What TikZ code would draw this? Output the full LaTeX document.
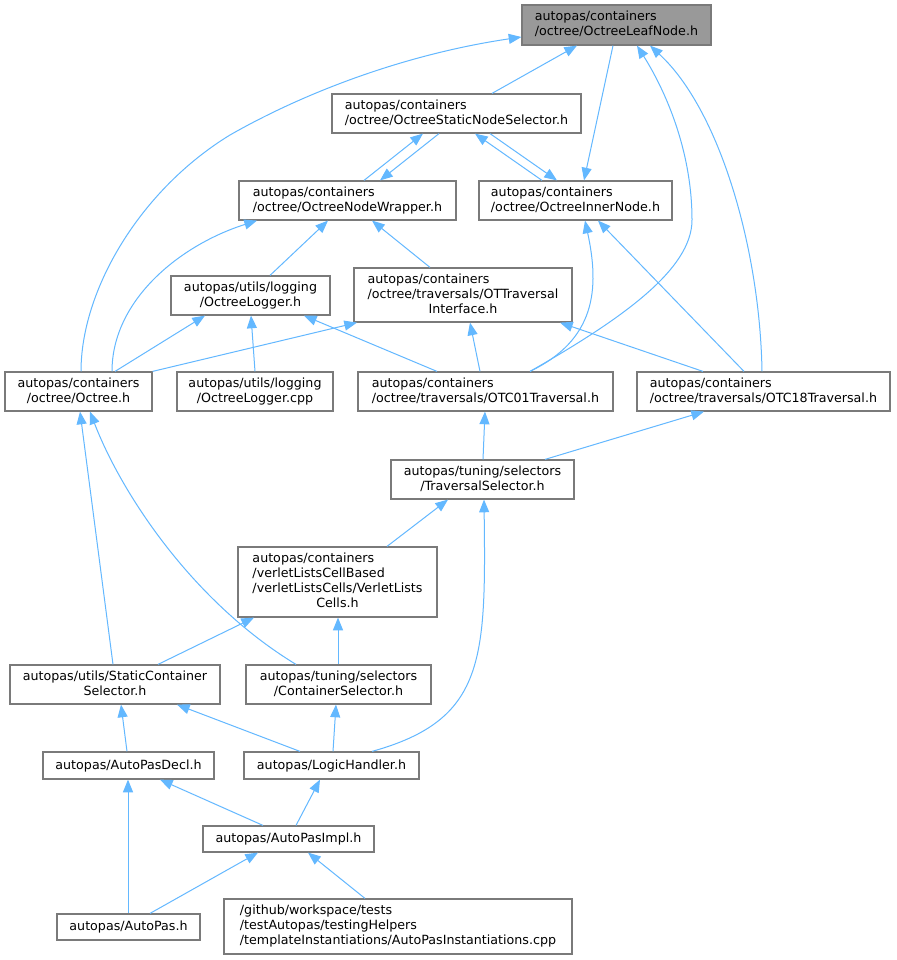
\documentclass[tikz,border=0pt]{standalone}
\usepackage{fontspec}
\setmainfont{DejaVu Sans}
\usetikzlibrary{arrows.meta}
\definecolor{edgec}{HTML}{63B8FF}
\definecolor{boxc}{HTML}{7A7A7A}
\definecolor{leafc}{HTML}{999999}
\newcommand\tl[2]{\begin{tabular}{@{}l@{}}#1\\\multicolumn{1}{@{}c@{}}{#2}\end{tabular}}
\begin{document}
\begin{tikzpicture}[x=0.75pt,y=-0.75pt,
  dbox/.style 2 args={draw=boxc, line width=0.9pt, fill=white, inner sep=0pt,
    minimum width=#1*0.75pt, minimum height=#2*0.75pt, align=center,
    font=\fontsize{9.5}{11.25}\selectfont},
  dep/.style={draw=edgec, line width=0.75pt, {Triangle[length=9.5pt,width=7.5pt]}-}]
\useasboundingbox (0,0) rectangle (896,960);
\fill[white] (0,0) rectangle (896,960);

\node[dbox={189}{40}, fill=leafc] (leaf) at (616.5,25) {\tl{autopas/containers}{/octree/OctreeLeafNode.h}};
\node[dbox={249}{39}] (sel) at (456.5,113.5) {\tl{autopas/containers}{/octree/OctreeStaticNodeSelector.h}};
\node[dbox={217}{39}] (wrap) at (347.5,200.5) {\tl{autopas/containers}{/octree/OctreeNodeWrapper.h}};
\node[dbox={193}{39}] (inner) at (575.5,200.5) {\tl{autopas/containers}{/octree/OctreeInnerNode.h}};
\node[dbox={159}{39}] (logh) at (250.5,295.5) {\tl{autopas/utils/logging}{/OctreeLogger.h}};
\node[dbox={218}{54}] (otti) at (463,295) {\tl{autopas/containers\\/octree/traversals/OTTraversal}{Interface.h}};
\node[dbox={147}{39}] (octree) at (78.5,391.5) {\tl{autopas/containers}{/octree/Octree.h}};
\node[dbox={156}{39}] (logcpp) at (255,391.5) {\tl{autopas/utils/logging}{/OctreeLogger.cpp}};
\node[dbox={255}{39}] (otc01) at (485.5,391.5) {\tl{autopas/containers}{/octree/traversals/OTC01Traversal.h}};
\node[dbox={253}{39}] (otc18) at (763.5,391.5) {\tl{autopas/containers}{/octree/traversals/OTC18Traversal.h}};
\node[dbox={183}{39}] (trav) at (482.5,479.5) {\tl{autopas/tuning/selectors}{/TraversalSelector.h}};
\node[dbox={199}{70}] (vlc) at (337.5,582) {\tl{autopas/containers\\/verletListsCellBased\\/verletListsCells/VerletLists}{Cells.h}};
\node[dbox={210}{39}] (scs) at (115,684.5) {\tl{autopas/utils/StaticContainer}{Selector.h}};
\node[dbox={185}{39}] (cs) at (338.5,684.5) {\tl{autopas/tuning/selectors}{/ContainerSelector.h}};
\node[dbox={171}{27}] (decl) at (128.5,765.5) {autopas/AutoPasDecl.h};
\node[dbox={175}{27}] (logic) at (331.5,765.5) {autopas/LogicHandler.h};
\node[dbox={171}{26}] (impl) at (288.5,839) {autopas/AutoPasImpl.h};
\node[dbox={143}{26}] (autopas) at (128.5,927) {autopas/AutoPas.h};
\node[dbox={348}{55}] (inst) at (398,926.5) {\tl{/github/workspace/tests\\/testAutopas/testingHelpers}{/templateInstantiations/AutoPasInstantiations.cpp}};

% edges (arrowhead at first end)
\draw[dep] (leaf.south -| 577,0) -- (sel.north -| 492,0);
\draw[dep] (leaf.west |- 0,37) .. controls (400,55) and (300,95) .. (230,135)
  .. controls (140,190) and (81,290) .. (octree.north -| 81,0);
\draw[dep] (inner.north -| 584,0) -- (leaf.south -| 613,0);
\draw[dep] (leaf.south -| 637,0) .. controls (665,90) and (692,150) .. (692,220)
  .. controls (692,270) and (620,320) .. (otc01.north -| 530,0);
\draw[dep] (leaf.south -| 650,0) .. controls (720,110) and (760,250) .. (otc18.north -| 762,0);
\draw[dep] (sel.south -| 423,0) -- (wrap.north -| 364,0);
\draw[dep] (wrap.north -| 380,0) -- (sel.south -| 439,0);
\draw[dep] (sel.south -| 475,0) -- (inner.north -| 542,0);
\draw[dep] (inner.north -| 557,0) -- (sel.south -| 490,0);
\draw[dep] (wrap.south -| 257,0) .. controls (180,245) and (112,300) .. (octree.north -| 112,0);
\draw[dep] (wrap.south -| 328,0) -- (logh.north -| 270,0);
\draw[dep] (wrap.south -| 372,0) -- (otti.north -| 430,0);
\draw[dep] (inner.south -| 585,0) .. controls (600,290) and (595,340) .. (otc01.north -| 530,0);
\draw[dep] (inner.south -| 598,0) -- (otc18.north -| 744,0);
\draw[dep] (logh.south -| 205,0) -- (octree.north -| 115,0);
\draw[dep] (logh.south -| 251,0) -- (logcpp.north -| 255,0);
\draw[dep] (logh.south -| 304,0) -- (otc01.north -| 437,0);
\draw[dep] (otti.south -| 357,0) -- (octree.north east);
\draw[dep] (otti.south -| 470,0) -- (otc01.north -| 480,0);
\draw[dep] (otti.south -| 560,0) -- (otc18.north -| 703,0);
\draw[dep] (otc01.south -| 485,0) -- (trav.north -| 483,0);
\draw[dep] (otc18.south -| 704,0) -- (trav.north -| 545,0);
\draw[dep] (octree.south -| 80,0) -- (scs.north -| 113,0);
\draw[dep] (octree.south -| 90,0) .. controls (120,490) and (190,600) .. (cs.north -| 296,0);
\draw[dep] (trav.south -| 448,0) -- (vlc.north -| 387,0);
\draw[dep] (trav.south -| 484,0) .. controls (486,660) and (485,720) .. (logic.north -| 372,0);
\draw[dep] (vlc.south -| 254,0) -- (scs.north -| 158,0);
\draw[dep] (vlc.south -| 338,0) -- (cs.north -| 338,0);
\draw[dep] (scs.south -| 121,0) -- (decl.north -| 127,0);
\draw[dep] (scs.south -| 177,0) -- (logic.north -| 300,0);
\draw[dep] (cs.south -| 336,0) -- (logic.north -| 333,0);
\draw[dep] (decl.south -| 128,0) -- (autopas.north -| 128,0);
\draw[dep] (decl.south -| 160,0) -- (impl.north -| 263,0);
\draw[dep] (logic.south -| 320,0) -- (impl.north -| 296,0);
\draw[dep] (impl.south -| 258,0) -- (autopas.north -| 150,0);
\draw[dep] (impl.south -| 308,0) -- (inst.north -| 365,0);
\end{tikzpicture}
\end{document}
